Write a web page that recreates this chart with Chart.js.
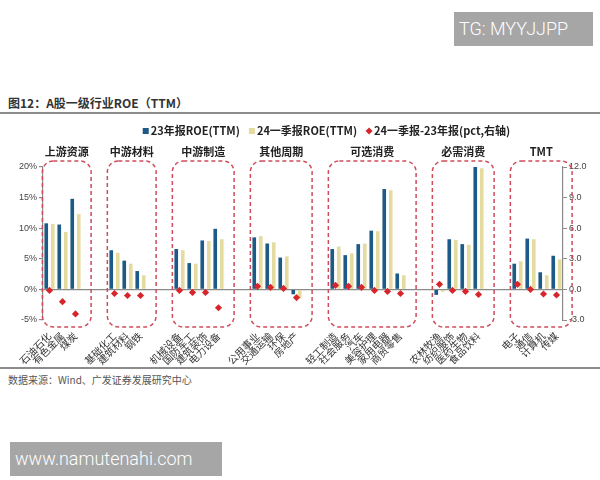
<!DOCTYPE html>
<html>
<head>
<meta charset="utf-8">
<script src="https://cdn.jsdelivr.net/npm/chart.js@4"></script>
<style>
  body { margin: 0; background: #fff; width: 600px; height: 480px; position: relative; overflow: hidden;
         font-family: "Noto Sans CJK SC", "Noto Sans", sans-serif; }
  #myChart { position: absolute; left: 0; top: 0; }
  .title { position: absolute; left: 8px; top: 94px; font-size: 12px; font-weight: bold; color: #333; }
  .rule { position: absolute; left: 0; width: 600px; height: 2px; background: #8c8c8c; }
  .source { position: absolute; left: 8px; top: 372px; font-size: 10px; color: #555; }
  .wm { position: absolute; background: #a6a6a6; color: #fff; font-family: Roboto, sans-serif; font-weight: 300; font-size: 18px; line-height: 34px; padding-left: 5px; box-sizing: border-box; }
</style>
</head>
<body>
<div class="title">图12：A股一级行业ROE（TTM）</div>
<div class="rule" style="top:112px"></div>
<div class="rule" style="top:367px"></div>
<div class="source">数据来源：Wind、广发证券发展研究中心</div>
<canvas id="myChart" width="600" height="480"></canvas>
<div class="wm" style="left:454px; top:12px; width:139px; height:34px;">TG: MYYJJPP</div>
<div class="wm" style="left:10px; top:442px; width:212px; height:34px;">www.namutenahi.com</div>
<script>
// groups are separated by two empty slots in the category list
var groups = ['上游资源', '中游材料', '中游制造', '其他周期', '可选消费', '必需消费', 'TMT'];
var industries = [
    '石油石化', '有色金属', '煤炭', '', '',
    '基础化工', '建筑材料', '钢铁', '', '',
    '机械设备', '国防军工', '建筑装饰', '电力设备', '', '',
    '公用事业', '交通运输', '环保', '房地产', '', '',
    '轻工制造', '社会服务', '汽车', '美容护理', '家用电器', '商贸零售', '', '',
    '农林牧渔', '纺织服饰', '医药生物', '食品饮料', '', '',
    '电子', '通信', '计算机', '传媒'
];
var roe23 = [
    10.8, 10.6, 14.8, null, null,
    6.4, 4.7, 3.0, null, null,
    6.6, 4.3, 8.0, 9.9, null, null,
    8.5, 7.5, 5.2, -0.8, null, null,
    6.6, 5.6, 7.4, 9.6, 16.4, 2.6, null, null,
    -0.9, 8.2, 7.4, 20.0, null, null,
    4.2, 8.3, 2.8, 5.5
];
var roe24q1 = [
    10.7, 9.4, 12.3, null, null,
    6.0, 4.2, 2.3, null, null,
    6.4, 4.2, 7.9, 8.2, null, null,
    8.7, 7.7, 5.4, -1.5, null, null,
    7.0, 5.9, 7.5, 9.5, 16.2, 2.3, null, null,
    -0.4, 8.1, 7.3, 19.8, null, null,
    4.6, 8.2, 2.3, 4.9
];
var diffPct = [
    -0.1, -1.2, -2.4, null, null,
    -0.4, -0.6, -0.6, null, null,
    -0.1, -0.3, -0.3, -1.8, null, null,
    0.3, 0.2, 0.1, -0.8, null, null,
    0.4, 0.3, 0.2, -0.1, -0.2, -0.4, null, null,
    0.5, -0.1, -0.2, -0.5, null, null,
    0.5, 0.0, -0.45, -0.55
];
var leftTicks = [-5, 0, 5, 10, 15, 20];
var rightTicks = [-3, 0, 3, 6, 9, 12];

var BLUE = '#1d5a87', YELLOW = '#e4dba0', RED = '#d8252c', BOX = '#cf4d5a';
var FONT = '"Noto Sans CJK SC", "Noto Sans", sans-serif';

// dashed group boxes, group titles and the legend
var decorations = {
    id: 'decorations',
    afterDraw: function (chart) {
        var c = chart.ctx, x = chart.scales.x, area = chart.chartArea;
        var slot = x.getPixelForValue(1) - x.getPixelForValue(0);
        // find runs of non-empty labels
        var runs = [], start = null;
        industries.forEach(function (name, i) {
            if (name && start === null) start = i;
            if ((!name || i === industries.length - 1) && start !== null) {
                runs.push([start, name ? i : i - 1]);
                start = null;
            }
        });
        c.save();
        runs.forEach(function (r, gi) {
            var left = x.getPixelForValue(r[0]) - 0.55 * slot;
            var right = x.getPixelForValue(r[1]) + 1.2 * slot;
            var top = area.top - 6, bottom = area.bottom + 7;
            c.setLineDash([4, 3]);
            c.lineWidth = 1.5;
            c.strokeStyle = BOX;
            c.beginPath();
            c.roundRect(left, top, right - left, bottom - top, 11);
            c.stroke();
            c.setLineDash([]);
            c.fillStyle = '#222';
            c.font = 'bold 11px ' + FONT;
            c.textAlign = 'center';
            c.textBaseline = 'middle';
            c.fillText(groups[gi], (left + right) / 2, 152);
        });

        // legend
        var items = [
            { text: '23年报ROE(TTM)', color: BLUE, type: 'sq' },
            { text: '24一季报ROE(TTM)', color: YELLOW, type: 'sq' },
            { text: '24一季报-23年报(pct,右轴)', color: RED, type: 'dia' }
        ];
        c.font = 'bold 11px ' + FONT;
        var widths = items.map(function (it) { return 9 + c.measureText(it.text).width; });
        var total = widths.reduce(function (a, b) { return a + b; }, 0) + 8 * (items.length - 1);
        var lx = 327 - total / 2, ly = 131;
        c.textAlign = 'left';
        items.forEach(function (it, i) {
            c.fillStyle = it.color;
            if (it.type === 'sq') {
                c.fillRect(lx, ly - 3, 6, 6);
            } else {
                c.beginPath();
                c.moveTo(lx + 3, ly - 3.5); c.lineTo(lx + 6.5, ly);
                c.lineTo(lx + 3, ly + 3.5); c.lineTo(lx - 0.5, ly);
                c.closePath(); c.fill();
            }
            c.fillStyle = '#222';
            c.fillText(it.text, lx + 8, ly);
            lx += widths[i] + 8;
        });
        c.restore();
    }
};

var ctx = document.getElementById('myChart').getContext('2d');
var myChart = new Chart(ctx, {
    type: 'bar',
    data: {
        labels: industries,
        datasets: [{
            label: '23年报ROE(TTM)',
            data: roe23,
            backgroundColor: BLUE,
            yAxisID: 'y',
            categoryPercentage: 1,
            barPercentage: 0.56,
            order: 2
        }, {
            label: '24一季报ROE(TTM)',
            data: roe24q1,
            backgroundColor: YELLOW,
            yAxisID: 'y',
            categoryPercentage: 1,
            barPercentage: 0.56,
            order: 2
        }, {
            type: 'line',
            label: '24一季报-23年报(pct,右轴)',
            data: diffPct,
            showLine: false,
            pointStyle: 'rectRot',
            pointRadius: 3.6,
            backgroundColor: RED,
            borderColor: RED,
            borderWidth: 0,
            yAxisID: 'y1',
            order: 1
        }]
    },
    options: {
        responsive: false,
        animation: false,
        layout: { padding: { top: 167, bottom: 110, left: 0, right: 0 } },
        plugins: {
            legend: { display: false },
            tooltip: { enabled: false }
        },
        scales: {
            x: {
                offset: true,
                grid: { display: false },
                border: { display: false },
                ticks: {
                    autoSkip: false,
                    minRotation: 45,
                    maxRotation: 45,
                    padding: 2,
                    color: '#333',
                    font: { family: FONT, size: 10 }
                },
                afterFit: function (s) { s.height = 50; }
            },
            y: {
                position: 'left',
                min: -5,
                max: 20,
                afterBuildTicks: function (s) { s.ticks = leftTicks.map(function (v) { return { value: v }; }); },
                grid: {
                    drawOnChartArea: true,
                    color: function (c) { return c.tick && c.tick.value === 0 ? '#8a8a8a' : 'rgba(0,0,0,0)'; },
                    lineWidth: 1.2,
                    tickLength: 4,
                    tickColor: '#8a8a8a'
                },
                border: { color: '#8a8a8a', width: 1.2 },
                ticks: {
                    padding: 2,
                    color: '#444',
                    font: { family: 'Arial, "Liberation Sans", sans-serif', size: 9 },
                    callback: function (v) { return v + '%'; }
                },
                afterFit: function (s) { s.width = 43; }
            },
            y1: {
                position: 'right',
                min: -3,
                max: 12,
                afterBuildTicks: function (s) { s.ticks = rightTicks.map(function (v) { return { value: v }; }); },
                grid: { drawOnChartArea: false, tickLength: 4, tickColor: '#8a8a8a' },
                border: { color: '#8a8a8a', width: 1.2 },
                ticks: {
                    padding: 2,
                    color: '#444',
                    font: { family: 'Arial, "Liberation Sans", sans-serif', size: 9 },
                    callback: function (v) { return v.toFixed(1); }
                },
                afterFit: function (s) { s.width = 37; }
            }
        }
    },
    plugins: [decorations]
});
</script>
</body>
</html>
